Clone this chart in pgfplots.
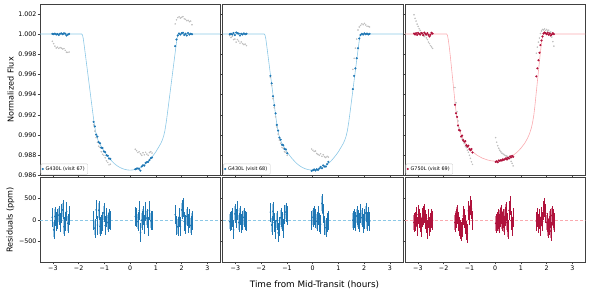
\documentclass[border=0pt]{standalone}
\usepackage{fontspec}
\setmainfont{DejaVu Sans}
\usepackage{pgfplots}
\usepackage{pgfplotstable}
\pgfplotsset{compat=1.18}

\definecolor{dblue}{RGB}{31,119,180}
\definecolor{lblue}{RGB}{140,200,230}
\definecolor{dred}{RGB}{176,18,60}
\definecolor{lred}{RGB}{250,170,175}
\definecolor{ebblue}{RGB}{160,200,228}
\definecolor{ebred}{RGB}{214,130,155}

% model curves
\pgfplotstableread{
t f
-3.5 1.00000
-1.88 1.00000
-1.85 0.99990
-1.82 0.99955
-1.78 0.99880
-1.74 0.99800
-1.70 0.99720
-1.65 0.99620
-1.60 0.99520
-1.55 0.99420
-1.50 0.99320
-1.45 0.99220
-1.40 0.99125
-1.35 0.99045
-1.30 0.98990
-1.25 0.98952
-1.20 0.98922
-1.14 0.98895
-1.07 0.98865
-1.00 0.98835
-0.90 0.98800
-0.80 0.98768
-0.70 0.98740
-0.60 0.98715
-0.50 0.98695
-0.40 0.98680
-0.30 0.98668
-0.20 0.98660
-0.10 0.98655
0.00 0.98653
0.10 0.98655
0.20 0.98660
0.30 0.98668
0.40 0.98680
0.50 0.98695
0.60 0.98715
0.70 0.98740
0.80 0.98768
0.90 0.98800
1.00 0.98835
1.07 0.98865
1.14 0.98895
1.20 0.98922
1.25 0.98952
1.30 0.98990
1.35 0.99045
1.40 0.99125
1.45 0.99220
1.50 0.99320
1.55 0.99420
1.60 0.99520
1.65 0.99620
1.70 0.99720
1.74 0.99800
1.78 0.99880
1.82 0.99955
1.85 0.99990
1.88 1.00000
3.5 1.00000
}\modelB

\pgfplotstableread{
t f
-3.5 1.00000
-1.88 1.00000
-1.85 0.99985
-1.82 0.99945
-1.78 0.99870
-1.74 0.99780
-1.70 0.99680
-1.66 0.99580
-1.62 0.99480
-1.58 0.99380
-1.54 0.99280
-1.50 0.99195
-1.45 0.99120
-1.40 0.99065
-1.33 0.99010
-1.25 0.98965
-1.15 0.98920
-1.00 0.98870
-0.85 0.98830
-0.70 0.98800
-0.50 0.98772
-0.30 0.98754
-0.15 0.98745
0.00 0.98742
0.15 0.98745
0.30 0.98754
0.50 0.98772
0.70 0.98800
0.85 0.98830
1.00 0.98870
1.15 0.98920
1.25 0.98965
1.33 0.99010
1.40 0.99065
1.45 0.99120
1.50 0.99195
1.54 0.99280
1.58 0.99380
1.62 0.99480
1.66 0.99580
1.70 0.99680
1.74 0.99780
1.78 0.99870
1.82 0.99945
1.85 0.99985
1.88 1.00000
3.5 1.00000
}\modelR

% visit 67: time, detrended flux, raw flux, residual (ppm)
\pgfplotstableread{
t f g r
-3.02 1.00002 0.99928 60
-2.97 0.99998 0.99905 -230
-2.92 1.00004 0.99880 80
-2.87 0.99995 0.99862 -40
-2.82 1.00001 0.99870 20
-2.77 0.99991 0.99858 110
-2.72 1.00003 0.99866 -60
-2.67 1.00006 0.99860 150
-2.62 0.99998 0.99852 230
-2.57 1.00008 0.99855 -160
-2.52 1.00003 0.99838 -40
-2.47 0.99985 0.99820 190
-2.42 0.99994 0.99818 -80
-2.37 1.00002 0.99822 90
-1.42 0.99130 0.99100 -20
-1.37 0.99085 0.99040 -190
-1.32 0.99005 0.98975 230
-1.27 0.98985 0.98930 -120
-1.22 0.98930 0.98890 220
-1.17 0.98918 0.98880 -150
-1.12 0.98875 0.98835 -100
-1.07 0.98872 0.98810 -40
-1.02 0.98838 0.98800 160
-0.97 0.98832 0.98775 -130
-0.92 0.98800 0.98745 60
-0.87 0.98795 0.98730 -60
-0.82 0.98768 0.98705 20
-0.77 0.98765 0.98712 -10
0.20 0.98662 0.98860 80
0.25 0.98668 0.98845 60
0.30 0.98670 0.98828 -40
0.35 0.98665 0.98835 210
0.40 0.98648 0.98815 -300
0.45 0.98690 0.98800 -10
0.50 0.98702 0.98825 90
0.55 0.98698 0.98805 -110
0.60 0.98725 0.98830 200
0.65 0.98732 0.98812 40
0.70 0.98735 0.98800 -150
0.75 0.98752 0.98828 220
0.80 0.98770 0.98835 -20
0.85 0.98778 0.98822 -5
1.75 0.99880 1.00100 120
1.80 0.99945 1.00140 -120
1.85 0.99985 1.00162 -160
1.90 1.00005 1.00170 60
1.95 0.99995 1.00158 -150
2.00 1.00008 1.00165 230
2.05 1.00012 1.00172 280
2.10 0.99990 1.00150 -40
2.15 1.00002 1.00145 -110
2.20 0.99985 1.00132 80
2.25 1.00010 1.00135 -80
2.30 0.99995 1.00122 40
2.35 1.00003 1.00128 -130
2.40 0.99998 1.00092 -20
}\visitA

% visit 68
\pgfplotstableread{
t f g r
-3.22 0.99998 0.99985 -40
-3.17 1.00003 0.99965 -20
-3.12 0.99995 0.99978 50
-3.07 1.00010 0.99945 -230
-3.02 0.99990 0.99950 140
-2.97 1.00015 0.99920 30
-2.92 1.00008 0.99945 210
-2.87 1.00004 0.99930 -60
-2.82 0.99985 0.99910 100
-2.77 1.00002 0.99922 -90
-2.72 0.99995 0.99905 -20
-2.67 1.00006 0.99895 60
-2.62 0.99998 0.99900 -10
-2.57 1.00003 0.99885 -30
-1.64 0.99585 0.99570 180
-1.59 0.99512 0.99490 -120
-1.54 0.99385 0.99360 200
-1.49 0.99295 0.99270 -60
-1.44 0.99215 0.99180 -230
-1.39 0.99100 0.99080 -20
-1.34 0.99045 0.99010 -300
-1.29 0.98975 0.98950 -160
-1.24 0.98955 0.98920 50
-1.19 0.98905 0.98878 -40
-1.14 0.98900 0.98870 -190
-1.09 0.98862 0.98835 120
-1.04 0.98858 0.98830 180
-0.99 0.98820 0.98800 110
-0.04 0.98645 0.98862 -20
0.01 0.98652 0.98850 60
0.06 0.98660 0.98838 100
0.11 0.98650 0.98842 30
0.16 0.98662 0.98818 -30
0.21 0.98655 0.98808 90
0.26 0.98670 0.98800 -60
0.31 0.98685 0.98815 -100
0.36 0.98672 0.98790 380
0.41 0.98700 0.98805 150
0.46 0.98690 0.98785 -120
0.51 0.98688 0.98778 -180
0.56 0.98712 0.98790 -70
0.61 0.98735 0.98782 -20
1.56 0.99455 0.99650 -10
1.61 0.99586 0.99760 40
1.66 0.99660 0.99860 -40
1.71 0.99760 0.99950 90
1.76 0.99859 1.00040 10
1.81 0.99955 1.00070 -60
1.86 0.99990 1.00085 140
1.91 1.00002 1.00100 50
1.96 0.99995 1.00092 -90
2.01 1.00006 1.00105 20
2.06 0.99998 1.00090 160
2.11 1.00004 1.00078 -40
2.16 0.99996 1.00075 70
2.21 1.00002 1.00070 -30
}\visitB

% visit 69
\pgfplotstableread{
t f g r
-3.15 1.00004 1.00190 -60
-3.11 0.99996 1.00155 -40
-3.07 1.00008 1.00128 80
-3.03 0.99992 1.00098 -150
-2.99 1.00012 1.00075 120
-2.95 1.00001 1.00052 40
-2.91 0.99994 1.00035 -70
-2.87 1.00010 1.00012 -180
-2.83 1.00005 1.00002 60
-2.79 0.99988 0.99990 90
-2.75 1.00014 0.99975 150
-2.71 1.00002 0.99985 10
-2.67 0.99995 0.99962 -90
-2.63 1.00008 0.99945 -220
-2.59 0.99990 0.99920 30
-2.55 0.99975 0.99905 -160
-2.51 0.99992 0.99885 -60
-2.47 1.00012 0.99872 40
-2.43 1.00004 0.99858 -10
-1.56 0.99300 0.99470 -60
-1.52 0.99215 0.99320 30
-1.48 0.99180 0.99230 120
-1.44 0.99095 0.99140 -40
-1.40 0.99050 0.99070 -150
-1.36 0.99045 0.99040 -220
-1.32 0.98985 0.98990 -280
-1.28 0.98995 0.98960 -180
-1.24 0.98950 0.98940 90
-1.20 0.98935 0.98915 40
-1.16 0.98940 0.98890 -100
-1.12 0.98900 0.98875 -250
-1.08 0.98885 0.98850 -320
-1.04 0.98895 0.98830 210
-1.00 0.98862 0.98800 110
-0.96 0.98850 0.98770 330
-0.92 0.98862 0.98735 250
-0.88 0.98828 0.98710 -20
0.02 0.98735 0.98975 -80
0.06 0.98740 0.98930 -30
0.10 0.98732 0.98895 20
0.14 0.98748 0.98870 -90
0.18 0.98745 0.98850 60
0.22 0.98752 0.98835 120
0.26 0.98748 0.98822 -40
0.30 0.98760 0.98815 30
0.34 0.98755 0.98808 -120
0.38 0.98762 0.98800 80
0.42 0.98770 0.98795 190
0.46 0.98758 0.98790 -60
0.50 0.98775 0.98782 -230
0.54 0.98768 0.98778 220
0.58 0.98790 0.98770 340
0.62 0.98780 0.98740 -20
0.66 0.98795 0.98720 -150
0.70 0.98785 0.98695 60
1.60 0.99580 0.99810 -30
1.64 0.99660 0.99870 50
1.68 0.99740 0.99920 -90
1.72 0.99815 0.99960 20
1.76 0.99890 1.00005 -160
1.80 0.99935 1.00030 80
1.84 0.99975 1.00045 -40
1.88 1.00005 1.00040 210
1.92 1.00015 1.00050 290
1.96 1.00008 1.00035 150
2.00 0.99998 1.00045 -60
2.04 1.00012 1.00030 -200
2.08 0.99992 1.00038 -120
2.12 1.00005 1.00015 40
2.16 0.99985 1.00020 -260
2.20 0.99995 0.99970 100
2.24 1.00008 0.99925 30
2.28 0.99998 0.99880 -70
}\visitC

\pgfplotsset{
  panel/.style={
    scale only axis, anchor=south west, width=180.3pt,
    xmin=-3.5, xmax=3.5, xtick={-3,-2,-1,0,1,2,3},
    axis line style={black!75, line width=0.5pt},
    every tick/.style={black!75, line width=0.5pt},
    tick align=outside, major tick length=2.4pt,
    xtick pos=left, ytick pos=left,
    ticklabel style={font=\fontsize{6.3}{7}\selectfont, inner sep=1pt},
    every axis y label/.style={at={(rel axis cs:0,0.5)}, xshift=-29.5pt, rotate=90, font=\fontsize{8.1}{9}\selectfont},
    legend style={at={(0.004,0.006)}, anchor=south west, font=\fontsize{4.9}{5.5}\selectfont,
      draw=black!20, rounded corners=1pt, inner xsep=1pt, inner ysep=0.6pt, row sep=-1pt},
    legend cell align=left,
    legend image code/.code={\draw[mark repeat=2,mark phase=2,#1] plot coordinates {(0pt,0pt)(3pt,0pt)(6pt,0pt)};},
  },
  toppanel/.style={panel, height=171.5pt, ymin=0.986, ymax=1.00297,
    ytick={0.986,0.988,0.990,0.992,0.994,0.996,0.998,1.000,1.002}, xticklabels={}},
  botpanel/.style={panel, height=84.5pt, ymin=-975, ymax=980,
    ytick={-500,0,500}, xticklabels={−3,−2,−1,0,1,2,3}},
  rawpts/.style={only marks, mark=*, mark size=0.55pt, gray!50, forget plot},
  ebthick/.style={only marks, mark=*, mark size=0.3pt, mark options={draw opacity=0, fill opacity=0},
     forget plot, error bars/.cd, y dir=both, y fixed=170, error mark=none,
     error bar style={line width=1.1pt, color=#1}},
  ebthin/.style={only marks, mark=*, mark size=0.6pt, #1, error bars/.cd, y dir=both, y fixed=220, error mark=none,
     error bar style={line width=0.3pt, color=#1}},
}

\begin{document}
\begin{tikzpicture}
\path[use as bounding box] (0pt,0pt) rectangle (598pt,292pt);

% ---------- top panels ----------
\begin{axis}[toppanel, at={(40pt,116.5pt)}, ylabel={Normalized Flux},
  yticklabels={0.986,0.988,0.990,0.992,0.994,0.996,0.998,1.000,1.002}]
  \addplot[rawpts] table[x=t,y=g]{\visitA};
  \addplot[lblue, line width=0.6pt, forget plot] table[x=t,y=f]{\modelB};
  \addplot[only marks, mark=*, mark size=0.85pt, dblue] table[x=t,y=f]{\visitA};
  \addlegendentry{G430L (visit 67)}
\end{axis}

\begin{axis}[toppanel, at={(222.5pt,116.5pt)}, yticklabels={}]
  \addplot[rawpts] table[x=t,y=g]{\visitB};
  \addplot[lblue, line width=0.6pt, forget plot] table[x=t,y=f]{\modelB};
  \addplot[only marks, mark=*, mark size=0.85pt, dblue] table[x=t,y=f]{\visitB};
  \addlegendentry{G430L (visit 68)}
\end{axis}

\begin{axis}[toppanel, at={(405pt,116.5pt)}, yticklabels={}]
  \addplot[rawpts] table[x=t,y=g]{\visitC};
  \addplot[lred, line width=0.6pt, forget plot] table[x=t,y=f]{\modelR};
  \addplot[only marks, mark=*, mark size=0.85pt, dred] table[x=t,y=f]{\visitC};
  \addlegendentry{G750L (visit 69)}
\end{axis}

% ---------- residual panels ----------
\begin{axis}[botpanel, at={(40pt,30pt)}, ylabel={Residuals (ppm)},
  yticklabels={−500,0,500}]
  \addplot[lblue, densely dashed, line width=0.6pt, forget plot] coordinates {(-3.5,0) (3.5,0)};
  \addplot[ebthick=ebblue] table[x=t,y=r]{\visitA};
  \addplot[ebthin=dblue] table[x=t,y=r]{\visitA};
\end{axis}

\begin{axis}[botpanel, at={(222.5pt,30pt)}, yticklabels={}]
  \addplot[lblue, densely dashed, line width=0.6pt, forget plot] coordinates {(-3.5,0) (3.5,0)};
  \addplot[ebthick=ebblue] table[x=t,y=r]{\visitB};
  \addplot[ebthin=dblue] table[x=t,y=r]{\visitB};
\end{axis}

\begin{axis}[botpanel, at={(405pt,30pt)}, yticklabels={}]
  \addplot[lred, densely dashed, line width=0.6pt, forget plot] coordinates {(-3.5,0) (3.5,0)};
  \addplot[ebthick=ebred] table[x=t,y=r]{\visitC};
  \addplot[ebthin=dred] table[x=t,y=r]{\visitC};
\end{axis}

\node[font=\fontsize{8.8}{10}\selectfont] at (314.5pt,7pt) {Time from Mid-Transit (hours)};
\end{tikzpicture}
\end{document}
